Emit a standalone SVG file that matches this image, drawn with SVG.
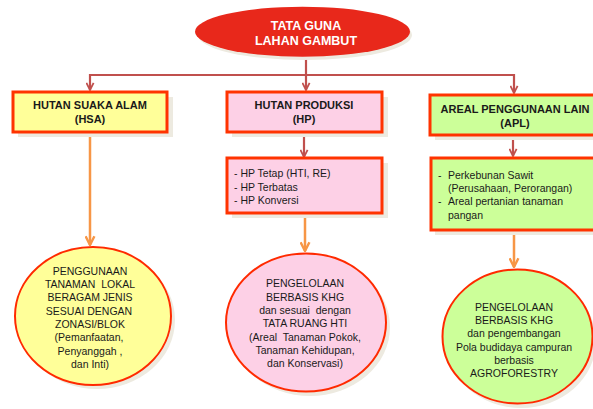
<svg xmlns="http://www.w3.org/2000/svg" width="593" height="409" viewBox="0 0 593 409">
<defs>
<style>
.t{font-family:"Liberation Sans",Arial,sans-serif;font-size:10.5px;fill:#1a1a1a;white-space:pre}
.b{font-weight:bold;font-size:11px}
.c{text-anchor:middle}
.box{stroke:#FF3300;stroke-width:3}
.sh{fill:#EDEAE0}
.el{stroke:#FF2A00;stroke-width:2}
.dr{fill:none;stroke:#C0504D;stroke-width:2.2}
.or{fill:none;stroke:#F79646;stroke-width:2.5}
</style>
<marker id="ar" viewBox="0 0 10 10" refX="9" refY="5" markerUnits="userSpaceOnUse" markerWidth="9" markerHeight="9" orient="auto">
<path d="M1,1 L9,5 L1,9" fill="none" stroke="#C0504D" stroke-width="2"/>
</marker>
<marker id="ao" viewBox="0 0 10 10" refX="9" refY="5" markerUnits="userSpaceOnUse" markerWidth="11" markerHeight="11" orient="auto">
<path d="M1,1 L9,5 L1,9" fill="none" stroke="#F79646" stroke-width="2.2"/>
</marker>
</defs>
<rect width="593" height="409" fill="#fff"/>

<g id="connectors">
<path class="dr" d="M306,57 V90" marker-end="url(#ar)"/>
<path class="dr" d="M306,75 H90 V90" marker-end="url(#ar)"/>
<path class="dr" d="M306,75 H514 V93" marker-end="url(#ar)"/>
<path class="dr" d="M304,137 V157" marker-end="url(#ar)"/>
<path class="dr" d="M513,140 V156" marker-end="url(#ar)"/>
<path class="or" d="M90,137 V245" marker-end="url(#ao)"/>
<path class="or" d="M305,213 V251" marker-end="url(#ao)"/>
<path class="or" d="M514,230 V267" marker-end="url(#ao)"/>
</g>

<g id="root">
<ellipse cx="305" cy="35" rx="107" ry="25" fill="#EDEAE0"/>
<ellipse cx="302.5" cy="31.7" rx="107.5" ry="25" fill="#E8281B"/>
<text class="t b c" style="font-size:12.5px;fill:#fff" x="306" y="29.5">TATA GUNA</text>
<text class="t b c" style="font-size:12.5px;fill:#fff" x="306" y="45">LAHAN GAMBUT</text>
</g>

<g id="hsa">
<rect class="sh" x="18" y="97" width="155" height="40"/>
<rect class="box" x="13" y="92" width="154" height="40" fill="#FFFF99"/>
<text class="t b c" x="90" y="109">HUTAN SUAKA ALAM</text>
<text class="t b c" x="90" y="123">(HSA)</text>
</g>

<g id="hp">
<rect class="sh" x="232" y="97" width="156" height="40"/>
<rect class="box" x="227" y="92" width="155" height="40" fill="#FDD0E6"/>
<text class="t b c" x="304" y="109">HUTAN PRODUKSI</text>
<text class="t b c" x="304" y="123">(HP)</text>
</g>

<g id="apl">
<rect class="sh" x="435" y="100" width="160" height="40"/>
<rect class="box" x="430" y="95" width="166" height="40" fill="#CCFF99"/>
<text class="t b c" x="515" y="113">AREAL PENGGUNAAN LAIN</text>
<text class="t b c" x="515" y="126.5">(APL)</text>
</g>

<g id="hp-detail">
<rect class="sh" x="232" y="163" width="156" height="55"/>
<rect class="box" x="227" y="158" width="155" height="55" fill="#FDD0E6"/>
<text class="t" x="234" y="177">- HP Tetap (HTI, RE)</text>
<text class="t" x="234" y="190.5">- HP Terbatas</text>
<text class="t" x="234" y="204">- HP Konversi</text>
</g>

<g id="apl-detail">
<rect class="sh" x="435" y="162" width="160" height="73"/>
<rect class="box" x="431" y="158" width="166" height="72" fill="#CCFF99"/>
<text class="t" x="438" y="178.5">-</text>
<text class="t" x="448" y="178.5">Perkebunan Sawit</text>
<text class="t" x="448" y="192">(Perusahaan, Perorangan)</text>
<text class="t" x="438" y="205">-</text>
<text class="t" x="448" y="205">Areal pertanian tanaman</text>
<text class="t" x="448" y="218.5">pangan</text>
</g>

<g id="hsa-use">
<ellipse cx="97" cy="320" rx="78" ry="69" fill="#EDEAE0"/>
<ellipse class="el" cx="93" cy="316" rx="78" ry="69" fill="#FFFF99"/>
<text class="t c" x="90" y="274.5">PENGGUNAAN</text>
<text class="t c" x="90" y="288">TANAMAN  LOKAL</text>
<text class="t c" x="90" y="301">BERAGAM JENIS</text>
<text class="t c" x="89" y="314.5">SESUAI DENGAN</text>
<text class="t c" x="90" y="328">ZONASI/BLOK</text>
<text class="t c" x="89" y="341">(Pemanfaatan,</text>
<text class="t c" x="90" y="354.5">Penyanggah ,</text>
<text class="t c" x="90" y="368">dan Inti)</text>
</g>

<g id="hp-use">
<ellipse cx="310" cy="327" rx="80" ry="69" fill="#EDEAE0"/>
<ellipse class="el" cx="306" cy="322.5" rx="80" ry="69" fill="#FDD0E6"/>
<text class="t c" x="305" y="287">PENGELOLAAN</text>
<text class="t c" x="305" y="300.5">BERBASIS KHG</text>
<text class="t c" x="305" y="314">dan sesuai  dengan</text>
<text class="t c" x="305" y="327">TATA RUANG HTI</text>
<text class="t c" x="305" y="340.5">(Areal  Tanaman Pokok,</text>
<text class="t c" x="305" y="354">Tanaman Kehidupan,</text>
<text class="t c" x="305" y="367">dan Konservasi)</text>
</g>

<g id="apl-use">
<ellipse cx="521" cy="341" rx="75" ry="67" fill="#EDEAE0"/>
<ellipse class="el" cx="517.5" cy="336.5" rx="75" ry="67" fill="#CCFF99"/>
<text class="t c" x="514" y="310.5">PENGELOLAAN</text>
<text class="t c" x="514" y="324">BERBASIS KHG</text>
<text class="t c" x="514" y="337">dan pengembangan</text>
<text class="t c" x="514" y="350.5">Pola budidaya campuran</text>
<text class="t c" x="514" y="364">berbasis</text>
<text class="t c" x="514" y="377">AGROFORESTRY</text>
</g>
</svg>
